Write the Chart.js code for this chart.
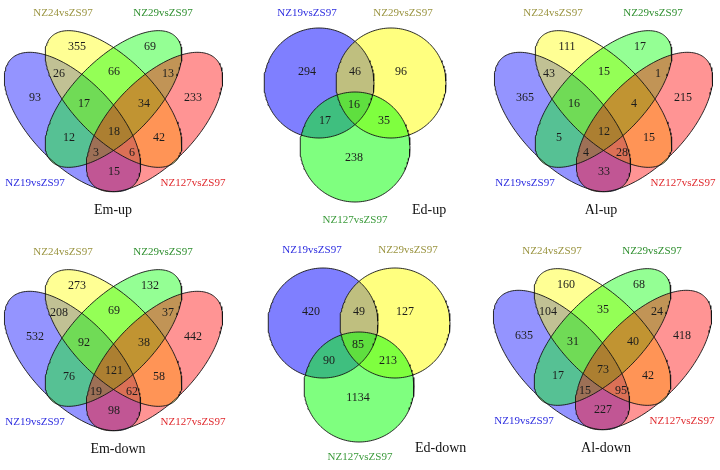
<!DOCTYPE html>
<html><head><meta charset="utf-8">
<script src="https://cdn.jsdelivr.net/npm/chart.js@4.4.1/dist/chart.umd.min.js"></script>
<style>html,body{margin:0;padding:0;background:#fff;}#wrap{width:720px;height:470px;}</style>
</head><body><div id="wrap"><canvas id="c" width="720" height="470"></canvas></div>
<script>
// ---------- DATA ----------
const setNames4 = ['NZ19vsZS97','NZ24vsZS97','NZ29vsZS97','NZ127vsZS97'];
const setNames3 = ['NZ19vsZS97','NZ29vsZS97','NZ127vsZS97'];
const titles = ['Em-up','Ed-up','Al-up','Em-down','Ed-down','Al-down'];
// 4-set region order (A=NZ19,B=NZ24,C=NZ29,D=NZ127):
// A, B, C, D, AB, BC, CD, ABC, BCD, AC, ABCD, BD, ACD, ABD, AD
const emUp   = [93,355,69,233,26,66,13,17,34,12,18,42,3,6,15];
const alUp   = [365,111,17,215,43,15,1,16,4,5,12,15,4,28,33];
const emDown = [532,273,132,442,208,69,37,92,38,76,121,58,19,62,98];
const alDown = [635,160,68,418,104,35,24,31,40,17,73,42,15,95,227];
// 3-set region order (A=NZ19,B=NZ29,C=NZ127): A, AB, B, ABC, AC, BC, C
const edUp   = [294,46,96,16,17,35,238];
const edDown = [420,49,127,85,90,213,1134];

// ---------- LAYOUT (positions / shapes / styles) ----------
const pos4 = [[35,98],[77,47],[150,47],[193,98],[59,74],[114,72],[168,74],[84,104],[144,104],[69,138],[114,132],[159,138],[96,153],[132,153],[114,172]];
const shapes4 = [
  {cx:72.5, cy:122, a:88, b:42, t:46,  rgb:'0,0,255'},
  {cx:113.5,cy:99,  a:88, b:40, t:45,  rgb:'255,255,0'},
  {cx:113.5,cy:99,  a:88, b:40, t:-45, rgb:'0,255,0'},
  {cx:154.5,cy:122, a:88, b:42, t:-46, rgb:'255,0,0'}
];
const lab4 = [[35,183],[63,13],[163,13],[193,183]];
const labCol4 = ['#2e2ee0','#9a9440','#2f8f2f','#e02a2e'];
const panels4 = [
  {ox:0,   oy:0,   vals:emUp,   title:0, tx:113},
  {ox:490, oy:0,   vals:alUp,   title:2, tx:111},
  {ox:0,   oy:239, vals:emDown, title:3, tx:118},
  {ox:489, oy:238, vals:alDown, title:5, tx:117}
];
const pos3 = [[67,73],[115,73],[161,73],[114,106],[85,122],[144,122],[114,159]];
const shapes3 = [
  {cx:79, cy:83, r:55, rgb:'0,0,255'},
  {cx:151,cy:83, r:55, rgb:'255,255,0'},
  {cx:115,cy:147,r:55, rgb:'0,255,0'}
];
const lab3 = [[67,13],[163,13],[115,220]];
const labCol3 = ['#2e2ee0','#9a9440','#3a9a3a'];
const panels3 = [
  {ox:240, oy:0,   lx:240, ly:0,   vals:edUp,   title:1, tx:172, ty:210},
  {ox:244, oy:240, lx:245, ly:237, vals:edDown, title:4, tx:170, ty:211}
];

function ellipsePts(cx, cy, a, b, tDeg) {
  const t = tDeg * Math.PI / 180, pts = [];
  const n = 180;
  for (let i = 0; i <= n; i++) {
    const s = i / n * 2 * Math.PI;
    pts.push({x: cx + a*Math.cos(s)*Math.cos(t) - b*Math.sin(s)*Math.sin(t),
              y: cy + a*Math.cos(s)*Math.sin(t) + b*Math.sin(s)*Math.cos(t)});
  }
  return pts;
}

const datasets = [];
let k = 0;
function addShape(pts, rgb, alpha) {
  datasets.push({
    data: pts, showLine: true, fill: 'shape', tension: 0,
    pointRadius: 0, pointHoverRadius: 0, borderWidth: 1,
    borderColor: 'rgba(20,20,20,0.9)', backgroundColor: 'rgba(' + rgb + ',' + alpha + ')',
    order: 1000 - (k++)
  });
}
panels4.forEach(p => shapes4.forEach(s =>
  addShape(ellipsePts(s.cx + p.ox, s.cy + p.oy, s.a, s.b, s.t), s.rgb, 0.42)));
panels3.forEach(p => shapes3.forEach(s =>
  addShape(ellipsePts(s.cx + p.ox, s.cy + p.oy, s.r, s.r, 0), s.rgb, 0.5)));

const FONT = '"Liberation Serif","DejaVu Serif",serif';
const textPlugin = {
  id: 'vennText',
  afterDatasetsDraw(chart) {
    const ctx = chart.ctx, X = chart.scales.x, Y = chart.scales.y;
    const put = (txt, x, y, size, color, align) => {
      ctx.font = size + 'px ' + FONT;
      ctx.fillStyle = color;
      ctx.textAlign = align || 'center';
      ctx.textBaseline = 'middle';
      ctx.fillText(txt, X.getPixelForValue(x), Y.getPixelForValue(y));
    };
    ctx.save();
    panels4.forEach(p => {
      p.vals.forEach((v, i) => put(String(v), pos4[i][0] + p.ox, pos4[i][1] + p.oy, 12, '#1c1c1c'));
      setNames4.forEach((n, i) => put(n, lab4[i][0] + p.ox, lab4[i][1] + p.oy, 11, labCol4[i]));
      put(titles[p.title], p.tx + p.ox, 210 + p.oy, 14, '#111');
    });
    panels3.forEach(p => {
      p.vals.forEach((v, i) => put(String(v), pos3[i][0] + p.ox, pos3[i][1] + p.oy - 1, 12, '#1c1c1c'));
      setNames3.forEach((n, i) => put(n, lab3[i][0] + p.lx, lab3[i][1] + p.ly, 11, labCol3[i]));
      put(titles[p.title], p.tx + p.lx, p.ty + p.ly, 14, '#111', 'left');
    });
    ctx.restore();
  }
};

new Chart(document.getElementById('c'), {
  type: 'scatter',
  data: { datasets },
  options: {
    responsive: false, animation: false, events: [],
    layout: { padding: 0 },
    scales: {
      x: { type: 'linear', min: 0, max: 720, display: false },
      y: { type: 'linear', min: 0, max: 470, reverse: true, display: false }
    },
    plugins: { legend: { display: false }, tooltip: { enabled: false },
               filler: { drawTime: 'beforeDatasetsDraw' } }
  },
  plugins: [textPlugin]
});
</script></body></html>
